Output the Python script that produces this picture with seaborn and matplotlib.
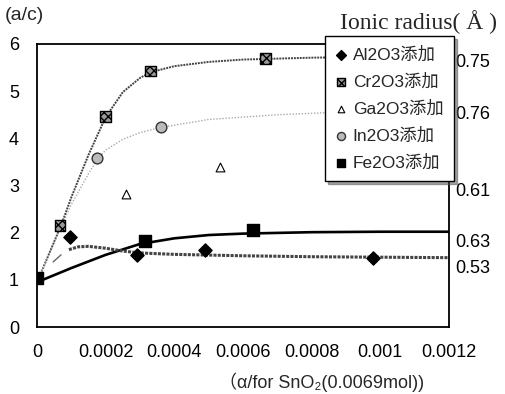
import matplotlib
matplotlib.use("Agg")
import matplotlib.pyplot as plt
import seaborn as sns
import pandas as pd
import numpy as np

sns.set_theme(style="white")
plt.rcParams['font.family'] = ['Liberation Sans', 'Noto Sans CJK JP', 'DejaVu Sans']

# ---- data: measured points ----
al_x = [0.000096, 0.00029, 0.00049, 0.00098]
al_y = [1.91, 1.53, 1.64, 1.47]
cr_x = [0.000067, 0.0002, 0.00033, 0.000666]
cr_y = [2.15, 4.47, 5.43, 5.70]
ga_x = [0.00026, 0.000534]
ga_y = [2.83, 3.40]
in_x = [0.000175, 0.00036]
in_y = [3.58, 4.23]
fe_x = [0.0, 0.000315, 0.000628]
fe_y = [1.04, 1.83, 2.06]

# ---- data: trend curves ----
cr_cx = [0, 0.00007, 0.0001, 0.00015, 0.0002, 0.00025, 0.0003, 0.00033, 0.0004, 0.0005, 0.0006, 0.0008, 0.001, 0.0012]
cr_cy = [0.95, 2.15, 2.75, 3.65, 4.45, 4.98, 5.28, 5.40, 5.53, 5.62, 5.67, 5.71, 5.73, 5.74]
in_cx = [0, 0.00005, 0.0001, 0.00015, 0.000175, 0.0002, 0.00025, 0.0003, 0.00036, 0.0005, 0.0007, 0.0009, 0.0012]
in_cy = [0.95, 1.8, 2.6, 3.25, 3.55, 3.75, 3.98, 4.12, 4.23, 4.40, 4.50, 4.56, 4.62]
fe_cx = [0, 0.0001, 0.0002, 0.0003, 0.0004, 0.0005, 0.0006, 0.0008, 0.001, 0.0012]
fe_cy = [0.95, 1.25, 1.53, 1.76, 1.88, 1.95, 1.98, 2.01, 2.02, 2.02]
al_cx = [0.000093, 0.00012, 0.00015, 0.0002, 0.00025, 0.0003, 0.0004, 0.0006, 0.0008, 0.001, 0.0012]
al_cy = [1.64, 1.70, 1.71, 1.67, 1.61, 1.57, 1.54, 1.51, 1.49, 1.48, 1.47]
seg_x = [0.000047, 0.00007]
seg_y = [1.38, 1.53]

labels = ['Al2O3添加', 'Cr2O3添加', 'Ga2O3添加', 'In2O3添加', 'Fe2O3添加']
radius_labels = ['0.75', '0.76', '0.61', '0.63', '0.53']
radius_y = [5.6, 4.5, 2.88, 1.8, 1.25]
xticks = [0, 0.0002, 0.0004, 0.0006, 0.0008, 0.001, 0.0012]
xticklabels = ['0', '0.0002', '0.0004', '0.0006', '0.0008', '0.001', '0.0012']
yticks = [0, 1, 2, 3, 4, 5, 6]

fig = plt.figure(figsize=(5.06, 3.94), dpi=100)
ax = fig.add_axes([37/506, 1-327/394, 412/506, 283/394])

sns.lineplot(x=cr_cx, y=cr_cy, ax=ax, color='#444444', lw=1.4, ls=(0, (1, 0.5)), zorder=2)
sns.lineplot(x=in_cx, y=in_cy, ax=ax, color='#aaaaaa', lw=1.0, ls=(0, (1, 1.2)), zorder=2)
sns.lineplot(x=fe_cx, y=fe_cy, ax=ax, color='black', lw=1.9, zorder=2)
sns.lineplot(x=al_cx, y=al_cy, ax=ax, color='#444444', lw=2.2, ls=(0, (1, 0.4)), zorder=2)
sns.lineplot(x=seg_x, y=seg_y, ax=ax, color='#666666', lw=1.0, zorder=2)

h_al = ax.scatter(al_x, al_y, marker='D', s=45, color='black', zorder=3)
h_cr = ax.scatter(cr_x, cr_y, marker='s', s=60, facecolor='#999999', edgecolor='black',
                  linewidth=1.0, hatch='xxxx', zorder=3)
h_ga = ax.scatter(ga_x, ga_y, marker='^', s=40, facecolor='white', edgecolor='black',
                  linewidth=0.8, zorder=3)
h_in = ax.scatter(in_x, in_y, marker='o', s=60, facecolor='#bbbbbb', edgecolor='#333333',
                  linewidth=1.0, zorder=3)
h_fe = ax.scatter(fe_x, fe_y, marker='s', s=65, color='black', zorder=3)

ax.set_xlim(0, 0.0012)
ax.set_ylim(0, 6)
ax.set_xticks(xticks)
ax.set_xticklabels(xticklabels)
ax.set_yticks(yticks)
ax.tick_params(direction='in', length=5, width=1, labelsize=13, colors='black')
ax.tick_params(axis='y', pad=13)
ax.tick_params(axis='x', pad=12)
for s in ax.spines.values():
    s.set_color('black')
    s.set_linewidth(1.3)
ax.set_xlabel('')
ax.set_ylabel('')

for lab, yv in zip(radius_labels, radius_y):
    ax.text(1.015, yv, lab, transform=ax.get_yaxis_transform(), fontsize=13,
            va='center', ha='left', color='black')

leg = ax.legend([h_al, h_cr, h_ga, h_in, h_fe], labels, loc='upper left',
                bbox_to_anchor=(0.699, 1.028), frameon=True, shadow=True, fancybox=False,
                prop={'family': ['Liberation Sans', 'Noto Sans CJK JP'], 'size': 12.5},
                handlelength=0.6, handletextpad=0.4, borderpad=0.6, labelspacing=0.62,
                borderaxespad=0, markerscale=0.75)
leg.get_frame().set_edgecolor('black')
leg.get_frame().set_linewidth(1.0)
leg.set_zorder(5)

fig.text(5/506, 1-15/394, '(a/c)', fontsize=14, va='center', ha='left')
fig.text(340/506, 1-22/394, 'Ionic radius( Å )', fontsize=17, va='center', ha='left',
         family=['Liberation Serif', 'DejaVu Serif'])
fig.text(322/506, 1-382/394, '（α/for SnO₂(0.0069mol))', fontsize=13, va='center', ha='center',
         family=['Liberation Sans', 'Noto Sans CJK JP', 'DejaVu Sans'])

fig.savefig('out.png', dpi=100)
